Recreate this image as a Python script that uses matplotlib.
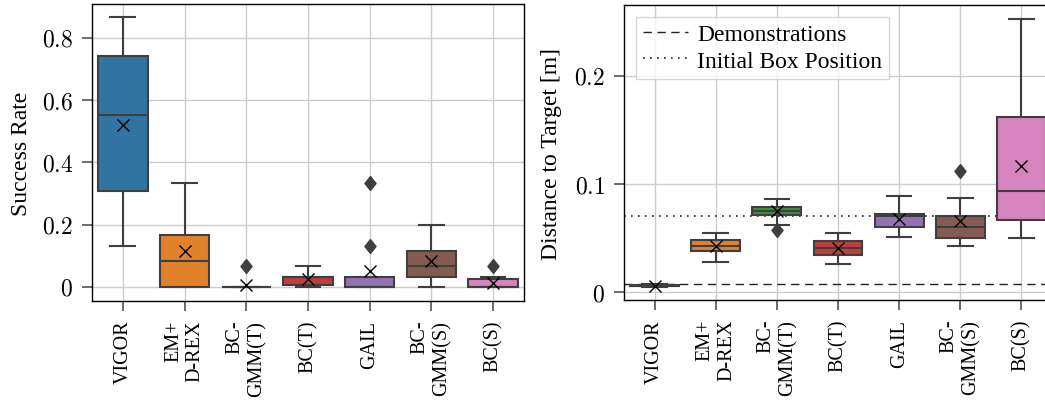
import matplotlib
matplotlib.use("Agg")
import matplotlib.pyplot as plt
from matplotlib.ticker import FuncFormatter, MultipleLocator
from matplotlib.lines import Line2D

plt.rcParams['font.family'] = ['Liberation Serif', 'DejaVu Serif']
plt.rcParams['mathtext.fontset'] = 'cm'

# categories and colours (seaborn tab10, desaturated)
methods = ["VIGOR", "EM+\nD-REX", "BC-\nGMM(T)", "BC(T)", "GAIL", "BC-\nGMM(S)", "BC(S)"]
colors = ["#3274A1", "#E1812C", "#3A923A", "#C03D3E", "#9372B2", "#845B53", "#D684BD"]

# success rate box stats
sr_whislo = [0.133, 0.0, 0.0, 0.0, 0.0, 0.0, 0.0]
sr_q1     = [0.308, 0.0, 0.0, 0.0074, 0.0, 0.032, 0.0]
sr_med    = [0.551, 0.082, 0.0, 0.033, 0.0, 0.066, 0.0]
sr_q3     = [0.741, 0.1655, 0.0, 0.033, 0.033, 0.1155, 0.0245]
sr_whishi = [0.867, 0.333, 0.0, 0.067, 0.033, 0.2, 0.033]
sr_mean   = [0.521, 0.115, 0.005, 0.0245, 0.05, 0.082, 0.013]
sr_fliers = [[], [], [0.067], [], [0.333, 0.133], [], [0.067]]

# distance to target box stats [m]
dt_whislo = [0.0047, 0.028, 0.0625, 0.0265, 0.0511, 0.0431, 0.0498]
dt_q1     = [0.0056, 0.0382, 0.0714, 0.0342, 0.0606, 0.0505, 0.0671]
dt_med    = [0.0061, 0.0428, 0.075, 0.0406, 0.0702, 0.0606, 0.0938]
dt_q3     = [0.0068, 0.048, 0.0788, 0.0477, 0.0723, 0.0708, 0.1615]
dt_whishi = [0.0076, 0.0548, 0.0862, 0.0548, 0.0886, 0.0871, 0.2526]
dt_mean   = [0.0062, 0.0428, 0.075, 0.0412, 0.0677, 0.0655, 0.117]
dt_fliers = [[], [], [0.0578], [], [], [0.112], []]

demo_dist = 0.0074
init_box_dist = 0.0707

gray = "#3f3f3f"
diamond = [(0, 1), (0.8, 0), (0, -1), (-0.8, 0), (0, 1)]


def draw(ax, whislo, q1, med, q3, whishi, mean, fliers):
    stats = []
    for i in range(len(methods)):
        stats.append(dict(whislo=whislo[i], q1=q1[i], med=med[i], q3=q3[i],
                          whishi=whishi[i], mean=mean[i], fliers=fliers[i]))
    bp = ax.bxp(stats, positions=range(len(methods)), widths=0.8,
                patch_artist=True, showmeans=True,
                boxprops=dict(edgecolor=gray, linewidth=1.5),
                whiskerprops=dict(color=gray, linewidth=1.5),
                capprops=dict(color=gray, linewidth=1.5),
                medianprops=dict(color=gray, linewidth=1.5),
                meanprops=dict(marker="x", markeredgecolor="black",
                               markersize=8.5, markeredgewidth=1.0),
                flierprops=dict(marker=diamond, markerfacecolor=gray,
                                markeredgecolor=gray, markersize=10))
    for patch, c in zip(bp["boxes"], colors):
        patch.set_facecolor(c)
    ax.set_xlim(-0.5, len(methods) - 0.5)
    ax.set_xticks(range(len(methods)))
    ax.set_xticklabels(methods, rotation=90, fontsize=14.5)
    for lbl in ax.get_xticklabels():
        lbl.set_multialignment("right")
    ax.yaxis.set_major_formatter(FuncFormatter(lambda v, p: "$%g$" % round(v, 3)))
    ax.tick_params(axis="y", labelsize=17)
    ax.tick_params(length=7, width=1.1, pad=6.5, color="#444444")
    ax.grid(True, color="#cccccc", linewidth=1.0)
    ax.set_axisbelow(True)
    for s in ax.spines.values():
        s.set_color("black")
        s.set_linewidth(1.0)


fig = plt.figure(figsize=(10.45, 4.02), dpi=100)
ax1 = fig.add_axes([0.088, 0.2488, 0.4134, 0.7388])
ax2 = fig.add_axes([0.5971, 0.2512, 0.4096, 0.7338])

draw(ax1, sr_whislo, sr_q1, sr_med, sr_q3, sr_whishi, sr_mean, sr_fliers)
ax1.set_ylim(-0.045, 0.909)
ax1.yaxis.set_major_locator(MultipleLocator(0.2))
ax1.set_ylabel("Success Rate", fontsize=17, labelpad=7)

draw(ax2, dt_whislo, dt_q1, dt_med, dt_q3, dt_whishi, dt_mean, dt_fliers)
demo_style = dict(color="#222222", linestyle=(0, (6, 4)), linewidth=1.0)
init_style = dict(color="#222222", linestyle=(0, (1, 3.2)), linewidth=1.2)
ax2.axhline(demo_dist, zorder=1.5, **demo_style)
ax2.axhline(init_box_dist, zorder=1.5, **init_style)
ax2.set_ylim(-0.0071, 0.2653)
ax2.yaxis.set_major_locator(MultipleLocator(0.1))
ax2.set_ylabel("Distance to Target [m]", fontsize=17, labelpad=9)
handles = [Line2D([], [], **demo_style), Line2D([], [], **init_style)]
ax2.legend(handles, ["Demonstrations", "Initial Box Position"], loc="upper left",
           fontsize=17, fancybox=False, framealpha=0.8, edgecolor="#cccccc",
           handlelength=1.9, handletextpad=0.4, borderpad=0.3, labelspacing=0.2)

fig.savefig("out.png", dpi=100)
